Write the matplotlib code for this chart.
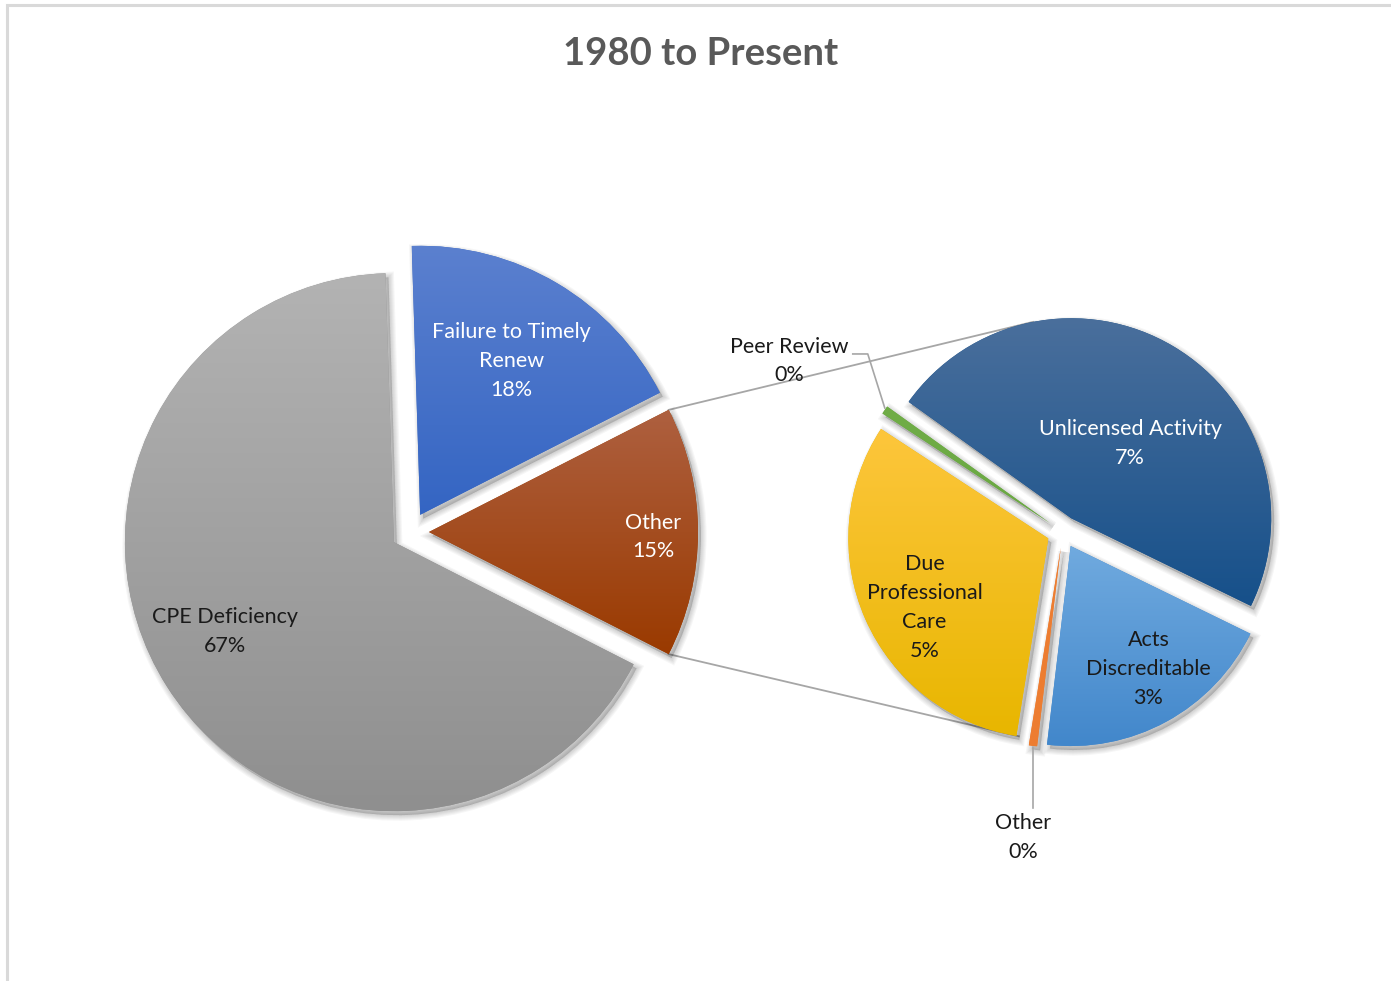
import numpy as np
import matplotlib
matplotlib.use("Agg")
import matplotlib.pyplot as plt
from matplotlib.colors import LinearSegmentedColormap
from matplotlib.patches import Wedge, Rectangle

W, H = 1391, 981

# data
primary_labels = ["Other", "Failure to Timely\nRenew", "CPE Deficiency"]
primary_values = [15, 18, 67]
primary_pct = ["15%", "18%", "67%"]

secondary_labels = ["Unlicensed Activity", "Peer Review", "Due\nProfessional\nCare", "Other", "Acts\nDiscreditable"]
secondary_values = [7.1, 0.1, 4.75, 0.1, 2.95]
secondary_pct = ["7%", "0%", "5%", "0%", "3%"]

# styles (top colour, bottom colour)
primary_colors = [("#ae6040", "#9a3a00"), ("#5b80cf", "#3465c3"), ("#b3b3b3", "#8f8f8f")]
secondary_colors = [("#4a6f9c", "#16508a"), ("#70ad47", "#6aa843"), ("#fdc63c", "#e8b600"),
                    ("#ed7d31", "#ed7d31"), ("#70aadf", "#4287cb")]
primary_text_color = ["white", "white", "#1a1a1a"]
secondary_text_color = ["white", "#1a1a1a", "#1a1a1a", "#1a1a1a", "#1a1a1a"]

FONT = "Lato"
FS = 15.5
LS = 1.55

fig = plt.figure(figsize=(W / 100, H / 100), dpi=100)
ax = fig.add_axes([0, 0, 1, 1])
ax.set_xlim(0, W)
ax.set_ylim(0, H)
ax.set_aspect("equal")
ax.axis("off")

# chart border (only top/left visible)
ax.add_patch(Rectangle((7, -20), W + 40, H - 5 + 20, fill=False, edgecolor="#d9d9d9", lw=2.2))


def shade(wedges, colors):
    for w, (top, bottom) in zip(wedges, colors):
        w.set_facecolor(bottom)
        w.set_edgecolor("none")
        # soft drop shadow
        for k in range(1, 6):
            sh = Wedge((w.center[0] + 3, w.center[1] - 4), w.r, w.theta1, w.theta2,
                       facecolor="black", edgecolor="black", lw=k * 1.6, alpha=0.035, zorder=1)
            ax.add_patch(sh)
        w.set_zorder(2)
        ext = w.get_path().get_extents()
        cmap = LinearSegmentedColormap.from_list("g", [bottom, top])
        im = ax.imshow(np.linspace(0, 1, 256).reshape(-1, 1), cmap=cmap, origin="lower",
                       extent=(ext.x0, ext.x1, ext.y0, ext.y1), aspect="auto", zorder=3)
        im.set_clip_path(w)


def inner_label(w, text, color, frac, dth):
    mid = np.deg2rad((w.theta1 + w.theta2) / 2 + dth)
    x = w.center[0] + frac * w.r * np.cos(mid)
    y = w.center[1] + frac * w.r * np.sin(mid)
    ax.text(x, y, text, ha="center", va="center", color=color, fontsize=FS,
            family=FONT, linespacing=LS, zorder=5)


def arc_point(w, ang):
    a = np.deg2rad(ang)
    return w.center[0] + w.r * np.cos(a), w.center[1] + w.r * np.sin(a)


# primary pie (explode is an absolute offset in data units here)
p_start = -180 * primary_values[0] / sum(primary_values)
p_wedges, _ = ax.pie(primary_values, center=(410, H - 532), radius=269, startangle=p_start,
                     counterclock=True, explode=[19, 20, 19], frame=True)
shade(p_wedges, primary_colors)

# secondary pie
s_wedges, _ = ax.pie(secondary_values, center=(1063, H - 532), radius=200, startangle=-26,
                     counterclock=True, explode=[16] * 5, frame=True)
shade(s_wedges, secondary_colors)

ax.set_xlim(0, W)
ax.set_ylim(0, H)
ax.axis("off")

# labels
p_layout = [(0.833, -1.3), (0.664, 0), (0.71, -4.6)]
for w, lab, pct, col, (fr, dth) in zip(p_wedges, primary_labels, primary_pct, primary_text_color, p_layout):
    inner_label(w, f"{lab}\n{pct}", col, fr, dth)

s_layout = {0: (0.475, -7.5), 2: (0.709, 5.3), 4: (0.728, 3.7)}
for i, (fr, dth) in s_layout.items():
    inner_label(s_wedges[i], f"{secondary_labels[i]}\n{secondary_pct[i]}", secondary_text_color[i], fr, dth)

# outside labels with leader lines
lc = "#a6a6a6"
pw = s_wedges[1]
ox, oy = arc_point(pw, (pw.theta1 + pw.theta2) / 2)
ax.plot([ox, ox - 17, ox - 32], [oy + 2, oy + 56, oy + 56], color=lc, lw=1.2, zorder=4)
ax.text(ox - 96, oy + 49, f"{secondary_labels[1]}\n{secondary_pct[1]}", ha="center", va="center",
        color="#1a1a1a", fontsize=FS, family=FONT, linespacing=LS, zorder=5)

ow = s_wedges[3]
ox, oy = arc_point(ow, (ow.theta1 + ow.theta2) / 2)
ax.plot([ox, ox], [oy - 2, oy - 62], color=lc, lw=1.2, zorder=4)
ax.text(ox - 10, oy - 92, f"{secondary_labels[3]}\n{secondary_pct[3]}", ha="center", va="center",
        color="#1a1a1a", fontsize=FS, family=FONT, linespacing=LS, zorder=5)

# connector lines from "Other" slice to secondary pie
ow0 = p_wedges[0]
top_src = arc_point(ow0, ow0.theta2)
bot_src = arc_point(ow0, ow0.theta1)
top_dst = arc_point(s_wedges[0], 101)
bot_dst = arc_point(s_wedges[2], -98.5)
ax.plot([top_src[0], top_dst[0]], [top_src[1], top_dst[1]], color=lc, lw=1.3, zorder=0.5)
ax.plot([bot_src[0], bot_dst[0]], [bot_src[1], bot_dst[1]], color=lc, lw=1.3, zorder=0.5)

fig.text(701 / W, 1 - 54 / H, "1980 to Present", ha="center", va="center", fontsize=27.5,
         fontweight="bold", color="#595959", family=FONT)

fig.savefig("out.png", dpi=100)
